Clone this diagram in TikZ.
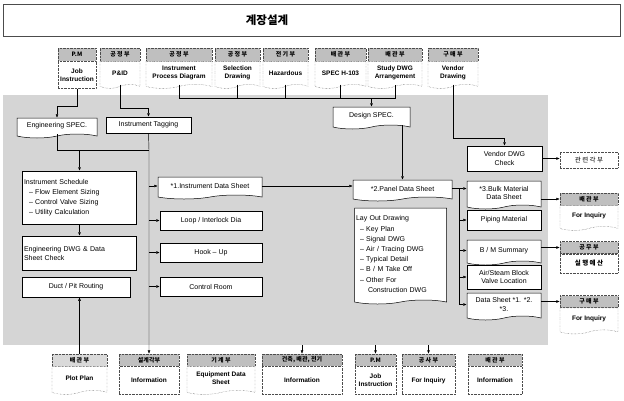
\documentclass[tikz,border=0pt]{standalone}
\usepackage{fontspec}
\setmainfont{Liberation Sans}
\newfontfamily\kr{Noto Sans CJK KR}
\usetikzlibrary{shapes.symbols,arrows.meta}
\begin{document}
\begin{tikzpicture}[x=1pt,y=-1pt,
  every node/.style={inner sep=1pt},
  arr/.style={-{Latex[length=3.5pt,width=2.8pt]}, line width=0.45pt},
  ln/.style={line width=0.45pt},
  proc/.style={draw, line width=0.5pt, fill=white, font=\fontsize{7}{8.5}\selectfont, inner sep=1.5pt, align=center},
  docb/.style={proc, tape, tape bend top=none, tape bend height=4pt},
  listbox/.style={proc, align=left, font=\fontsize{7}{10}\selectfont},
  hdr/.style={draw=black!70, densely dotted, fill=gray!50, font=\kr\bfseries\fontsize{6}{7}\selectfont, minimum height=13pt, inner sep=0pt},
  dbody/.style={draw=black!70, densely dotted, fill=white, font=\bfseries\fontsize{6.5}{7.8}\selectfont, align=center, inner sep=1pt, anchor=north},
  dwave/.style={dbody, tape, tape bend top=none, tape bend height=4pt},
]
\useasboundingbox (0,0) rectangle (624,400);
\fill[white] (0,0) rectangle (624,400);

% title
\node[draw=black!70, line width=0.5pt, minimum width=617, minimum height=32] (titlebox) at (311.5,20.5) {};
\node[font=\kr\bfseries\fontsize{11.5}{13}\selectfont] (title) at (267,20) {계장설계};

% main shaded region
\fill[gray!33] (3,95) rectangle (548,345);
\coordinate (rb) at (0,345);

% top department boxes
\node[hdr, minimum width=38] (T1h) at (77,54.5) {P.M};
\node[dbody, minimum width=38, minimum height=27] (T1b) at (T1h.south) {Job\\Instruction};
\node[hdr, minimum width=40] (T2h) at (120,54.5) {공 정 부};
\node[dwave, minimum width=40, minimum height=27] (T2b) at (T2h.south) {P\&ID};
\node[hdr, minimum width=66] (T3h) at (179,54.5) {공 정 부};
\node[dwave, minimum width=66, minimum height=27] (T3b) at (T3h.south) {Instrument\\Process Diagram};
\node[hdr, minimum width=45] (T4h) at (237.5,54.5) {공 정 부};
\node[dwave, minimum width=45, minimum height=27] (T4b) at (T4h.south) {Selection\\Drawing};
\node[hdr, minimum width=45] (T5h) at (285.5,54.5) {전 기 부};
\node[dwave, minimum width=45, minimum height=27] (T5b) at (T5h.south) {Hazardous};
\node[hdr, minimum width=51] (T6h) at (340.5,54.5) {배 관 부};
\node[dwave, minimum width=51, minimum height=27] (T6b) at (T6h.south) {SPEC H-103};
\node[hdr, minimum width=54] (T7h) at (395,54.5) {배 관 부};
\node[dwave, minimum width=54, minimum height=27] (T7b) at (T7h.south) {Study DWG\\Arrangement};
\node[hdr, minimum width=50] (T8h) at (453,54.5) {구 매 부};
\node[dwave, minimum width=50, minimum height=27] (T8b) at (T8h.south) {Vendor\\Drawing};

% inner process boxes
\node[docb, minimum width=80, minimum height=20] (EngSPEC) at (57,126) {Engineering SPEC.};
\node[proc, minimum width=85, minimum height=16] (InstTag) at (148.5,125) {Instrument Tagging};
\node[docb, minimum width=77, minimum height=22] (DesignSPEC) at (371.5,116) {Design SPEC.};
\node[proc, minimum width=75, minimum height=25] (VendorCheck) at (504.5,158.5) {Vendor DWG\\Check};
\node[listbox, text width=111, minimum height=53] (InstSched) at (79.5,197.5)
  {Instrument Schedule\\\hspace*{5pt}– Flow Element Sizing\\\hspace*{5pt}– Control Valve Sizing\\\hspace*{5pt}– Utility Calculation};
\node[docb, minimum width=104, minimum height=22] (IDS1) at (210,186) {*1.Instrument Data Sheet};
\node[proc, minimum width=102, minimum height=19] (Loop) at (211,220.5) {Loop / Interlock Dia};
\node[listbox, text width=111, minimum height=34, font=\fontsize{7}{9}\selectfont] (EngDWG) at (79.5,253) {Engineering DWG \& Data\\Sheet Check};
\node[proc, minimum width=102, minimum height=19] (HookUp) at (211,252.5) {Hook – Up};
\node[proc, minimum width=108, minimum height=20] (Duct) at (76,287) {Duct / Pit Routing};
\node[proc, minimum width=102, minimum height=19] (CtrlRoom) at (211,286.5) {Control Room};
\node[docb, minimum width=99, minimum height=21] (PDS2) at (402.5,188.5) {*2.Panel Data Sheet};
\node[docb, minimum width=74, minimum height=28] (BMDS3) at (504,193) {*3.Bulk Material\\Data Sheet};
\node[docb, align=left, font=\fontsize{7}{10.2}\selectfont, text width=89, minimum height=96] (LayOut) at (400.5,254)
  {Lay Out Drawing\\\hspace*{4pt}– Key Plan\\\hspace*{4pt}– Signal DWG\\\hspace*{4pt}– Air / Tracing DWG\\\hspace*{4pt}– Typical Detail\\\hspace*{4pt}– B / M Take Off\\\hspace*{4pt}– Other For\\\hspace*{12pt}Construction DWG};
\node[proc, minimum width=74, minimum height=20] (PipingMat) at (504,220) {Piping Material};
\node[docb, minimum width=74, minimum height=25] (BMSum) at (504,250.5) {B / M Summary};
\node[proc, minimum width=74, minimum height=24] (AirSteam) at (504,277) {Air/Steam Block\\Valve Location};
\node[docb, minimum width=74, minimum height=27] (DS) at (504,304.5) {Data Sheet *1. *2.\\*3.};

% right department boxes
\node[draw=black!70, densely dotted, fill=white, minimum width=58, minimum height=16, font=\kr\fontsize{6.5}{7.5}\selectfont] (R0) at (589,160) {관 련 각 부};
\node[hdr, minimum width=58, minimum height=12] (R1h) at (589,199) {배 관 부};
\node[dwave, minimum width=58, minimum height=25] (R1b) at (R1h.south) {For Inquiry};
\node[hdr, minimum width=58, minimum height=12] (R2h) at (589,247.5) {공 무 부};
\node[dbody, minimum width=58, minimum height=19, font=\kr\bfseries\fontsize{6.5}{7.5}\selectfont] (R2b) at (R2h.south) {실 행 예 산};
\node[hdr, minimum width=58, minimum height=12] (R3h) at (589,301.5) {구 매 부};
\node[dwave, minimum width=58, minimum height=26] (R3b) at (R3h.south) {For Inquiry};

% bottom department boxes
\node[hdr, minimum width=55, minimum height=12, fill=gray!30] (B1h) at (79.5,360) {배 관 부};
\node[dwave, minimum width=55, minimum height=28] (B1b) at (B1h.south) {Plot Plan};
\node[hdr, minimum width=60, minimum height=12] (B2h) at (149,360) {설계각부};
\node[dbody, minimum width=60, minimum height=28] (B2b) at (B2h.south) {Information};
\node[hdr, minimum width=68, minimum height=12] (B3h) at (221,360) {기 계 부};
\node[dwave, minimum width=68, minimum height=28] (B3b) at (B3h.south) {Equipment Data\\Sheet};
\node[hdr, minimum width=80, minimum height=12, fill=gray!60] (B4h) at (302,360) {건축, 배관, 전기};
\node[dbody, minimum width=80, minimum height=28] (B4b) at (B4h.south) {Information};
\node[hdr, minimum width=41, minimum height=12] (B5h) at (375.5,360) {P.M};
\node[dbody, minimum width=41, minimum height=28] (B5b) at (B5h.south) {Job\\Instruction};
\node[hdr, minimum width=53, minimum height=12] (B6h) at (428.5,360) {공 사 부};
\node[dbody, minimum width=53, minimum height=28] (B6b) at (B6h.south) {For Inquiry};
\node[hdr, minimum width=54, minimum height=12] (B7h) at (495,360) {배 관 부};
\node[dbody, minimum width=54, minimum height=28] (B7b) at (B7h.south) {Information};

% ---- connectors ----
\coordinate (k1) at (77,106);
\draw[arr] (T1b.south) -- (k1) -| (EngSPEC.north);
\coordinate (k2) at (120,108);
\draw[arr] (T2b.south) -- (k2) -| (InstTag.north);
\coordinate (k3) at (179,98);
\coordinate (k7) at (395,98);
\draw[ln] (T3b.south) -- (k3) -- (k7) -- (T7b.south);
\draw[ln] (T4b.south) -- (T4b.south |- k3);
\draw[ln] (T5b.south) -- (T5b.south |- k3);
\draw[ln] (T6b.south) -- (T6b.south |- k3);
\draw[arr] (DesignSPEC.north |- k3) -- (DesignSPEC.north);
\coordinate (k8) at (453,138);
\draw[arr] (T8b.south) -- (k8) -| (VendorCheck.north);

% left spine
\coordinate (sp1t) at (149,150);
\draw[ln] (EngSPEC.south) |- (sp1t);
\draw[arr] (InstTag.south) -- (sp1t) -- (B2h.north);
\draw[arr] (InstSched.north |- sp1t) -- (InstSched.north);
\draw[arr] (IDS1.west -| sp1t) -- (IDS1.west);
\draw[arr] (Loop.west -| sp1t) -- (Loop.west);
\draw[arr] (HookUp.west -| sp1t) -- (HookUp.west);
\draw[arr] (CtrlRoom.west -| sp1t) -- (CtrlRoom.west);
\draw[arr] (InstSched.south) -- (EngDWG.north);
\draw[arr] (B1h.north) -- (B1h.north |- Duct.south);

% middle / right
\draw[arr] (DesignSPEC.south -| PDS2.north) -- (PDS2.north);
\draw[arr] (IDS1.east) -- (IDS1.east -| PDS2.west);
\draw[arr] (PDS2.east) -- (PDS2.east -| BMDS3.west);
\coordinate (sp2t) at (459,188.5);
\coordinate (sp2b) at (459,304.5);
\draw[ln] (sp2t) -- (sp2b);
\draw[arr] (PipingMat.west -| sp2t) -- (PipingMat.west);
\draw[arr] (BMSum.west -| sp2t) -- (BMSum.west);
\draw[arr] (AirSteam.west -| sp2t) -- (AirSteam.west);
\draw[arr] (DS.west -| sp2t) -- (DS.west);

\draw[arr] (VendorCheck.east) -- (VendorCheck.east -| R0.west);
\draw[arr] (BMDS3.east |- R1h.west) -- (R1h.west);
\draw[arr] (BMSum.east |- R2h.west) -- (R2h.west);
\draw[arr] (DS.east |- R3h.west) -- (R3h.west);

% bottom arrows
\draw[arr] (B4h.north |- rb) -- (B4h.north);
\draw[arr] (B5h.north |- rb) -- (B5h.north);
\draw[arr] (B6h.north |- rb) -- (B6h.north);
\end{tikzpicture}
\end{document}
